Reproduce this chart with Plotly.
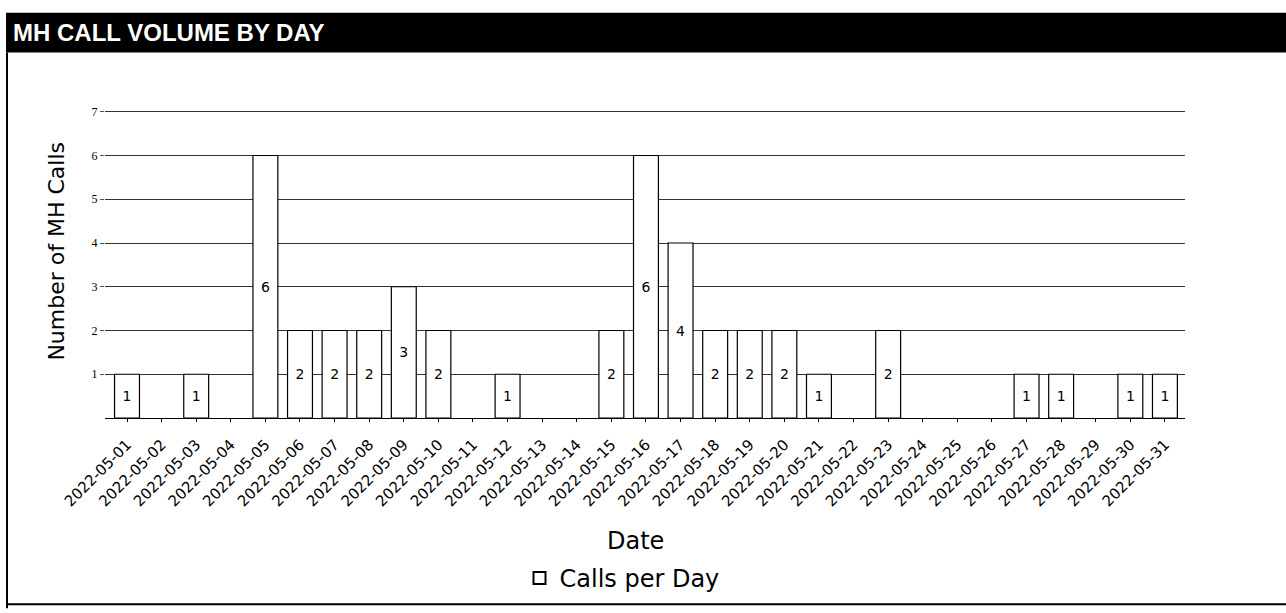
import plotly.graph_objects as go

dates = ["2022-05-%02d" % d for d in range(1, 32)]
calls = [1, 0, 1, 0, 6, 2, 2, 2, 3, 2, 0, 1, 0, 0, 2, 6, 4, 2, 2, 2, 1, 0, 2, 0, 0, 0, 1, 1, 0, 1, 1]
y_ticks = [1, 2, 3, 4, 5, 6, 7]

W, H = 1286, 613
L, R, T, B = 105, 1185, 103, 421  # plot area in pixels

def px(x):
    return (x - L) / (R - L)

def py(y):
    return (B - y) / (B - T)

labels = [str(v) if v else "" for v in calls]
line_widths = [1.2 if v else 0 for v in calls]

fig = go.Figure()
fig.add_trace(go.Bar(
    x=dates, y=calls, name="Calls per Day",
    marker=dict(color="white", line=dict(color="black", width=line_widths)),
    width=0.72,
    text=labels, textposition="inside", insidetextanchor="middle",
    textfont=dict(family="DejaVu Sans", size=14, color="black"),
))

fig.update_layout(
    width=W, height=H,
    margin=dict(l=L, r=W - R, t=T, b=H - B, pad=0),
    paper_bgcolor="white", plot_bgcolor="white",
    showlegend=True,
    legend=dict(orientation="h", x=px(622), xanchor="center", y=py(583), yanchor="middle",
                font=dict(family="DejaVu Sans", size=24, color="black"),
                itemsizing="constant"),
    xaxis=dict(type="category", range=[-0.636, 30.58], tickangle=-45,
               tickfont=dict(family="DejaVu Sans", size=15, color="black"),
               showline=True, linecolor="black", linewidth=1,
               ticks="outside", ticklen=3, tickcolor="black",
               ticklabelstandoff=8,
               showgrid=False, automargin=False),
    yaxis=dict(range=[0, 7.2], tickvals=y_ticks,
               tickfont=dict(family="Liberation Serif", size=12, color="black"),
               showgrid=True, gridcolor="#333333", gridwidth=1,
               zeroline=False, showline=False, ticks="outside", ticklen=4, tickcolor="#555555",
               automargin=False),
    shapes=[
        dict(type="rect", xref="paper", yref="paper", x0=px(6), x1=px(W + 5), y0=py(52), y1=py(12),
             fillcolor="black", line=dict(width=0), layer="above"),
        dict(type="line", xref="paper", yref="paper", x0=px(7), x1=px(7), y0=py(52), y1=py(613),
             line=dict(color="black", width=2)),
        dict(type="line", xref="paper", yref="paper", x0=px(7), x1=px(W + 5), y0=py(609), y1=py(609),
             line=dict(color="black", width=2)),
    ],
    annotations=[
        dict(text="<b>MH CALL VOLUME BY DAY</b>", xref="paper", yref="paper", x=px(11), y=py(32),
             xanchor="left", yanchor="middle", showarrow=False,
             font=dict(family="Liberation Sans", size=24, color="white")),
        dict(text="Number of MH Calls", xref="paper", yref="paper", x=px(57), y=py(253),
             xanchor="center", yanchor="middle", textangle=-90, showarrow=False,
             font=dict(family="DejaVu Sans", size=22, color="black")),
        dict(text="Date", xref="paper", yref="paper", x=px(635), y=py(545),
             xanchor="center", yanchor="middle", showarrow=False,
             font=dict(family="DejaVu Sans", size=24, color="black")),
    ],
)

fig.write_html("out.html", config={"displayModeBar": False},
               post_script="document.body.style.margin='0';document.body.style.padding='0';")
